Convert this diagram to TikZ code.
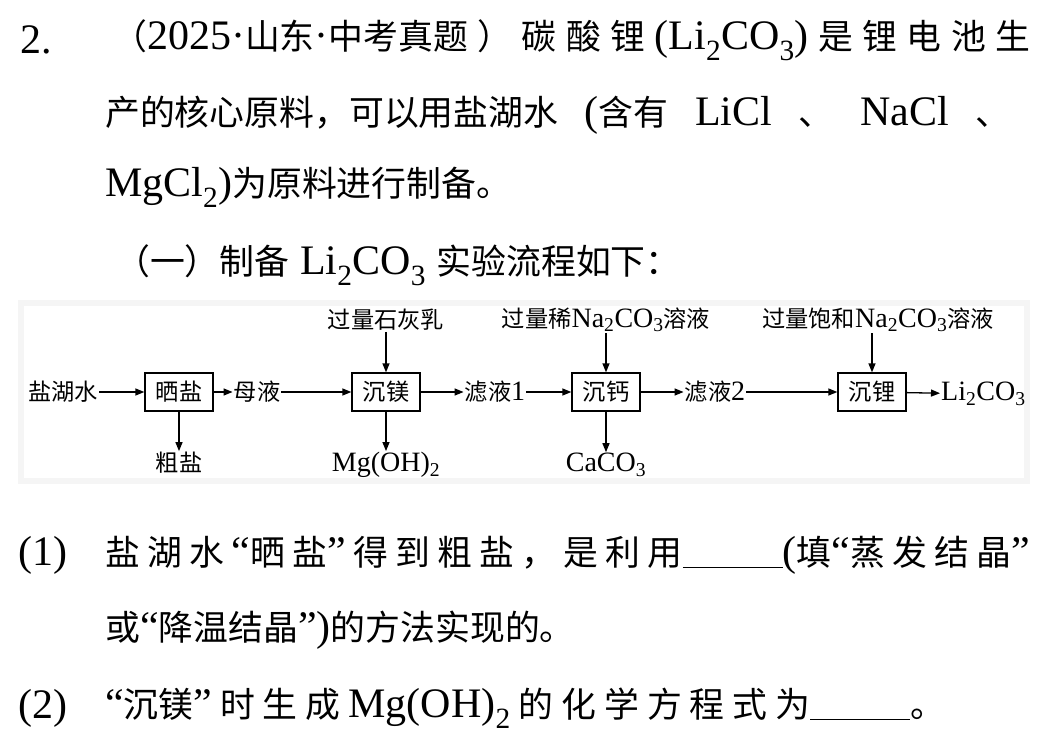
\documentclass[tikz,border=0pt]{standalone}
\usepackage{fontspec}
\setmainfont{Liberation Serif}
\newfontfamily\cjk[Scale=0.83]{Noto Sans CJK SC}
\newcommand{\C}[1]{{\cjk #1}}
\newcommand{\blank}{\rule[-3pt]{100pt}{1.2pt}}
\newcommand{\g}{\hspace{0pt plus 1fil}}
\usetikzlibrary{arrows.meta}
\begin{document}
\begin{tikzpicture}[x=1pt,y=-1pt,
  big/.style={anchor=west,inner sep=0pt,font=\fontsize{42}{48}\selectfont},
  sm/.style={inner sep=1pt,font=\fontsize{28}{32}\selectfont},
  pbox/.style={draw,line width=1.3pt,minimum width=68pt,minimum height=38pt,inner sep=0pt,font=\fontsize{28}{32}\selectfont},
  ar/.style={-{Triangle[length=9pt,width=7pt]},line width=1.3pt}]
\useasboundingbox (0,0) rectangle (1060,738);
\fill[white] (0,0) rectangle (1060,738);
\fill[gray!8] (18,300) rectangle (1030,484);
\fill[white] (24,306) rectangle (1024,478);
% text
\node[big] (l0) at (20,40) {2.};
\node[big] (l1) at (112,40) {\makebox[918pt][s]{\C{（}2025·\C{山东}·\C{中考真题}\g\C{）}\g\C{碳}\g\C{酸}\g\C{锂}\g(Li\textsubscript{2}CO\textsubscript{3})\g\C{是}\g\C{锂}\g\C{电}\g\C{池}\g\C{生}}};
\node[big] (l2) at (105,115) {\makebox[905pt][s]{\C{产的核心原料，可以用盐湖水}\g(\C{含有}\g LiCl\g\C{、}\g NaCl\g\C{、}}};
\node[big] (l3) at (105,187) {MgCl\textsubscript{2})\C{为原料进行制备。}};
\node[big] (l4) at (115,265) {\C{（一）制备} Li\textsubscript{2}CO\textsubscript{3} \C{实验流程如下：}};
\node[big] (q1) at (18,555) {(1)};
\node[big] (q1a) at (105,555) {\makebox[925pt][s]{\C{盐}\g\C{湖}\g\C{水}\g“\C{晒}\g\C{盐}”\g\C{得}\g\C{到}\g\C{粗}\g\C{盐}\g\C{，}\g\C{是}\g\C{利}\g\C{用}\blank(\C{填}“\C{蒸}\g\C{发}\g\C{结}\g\C{晶}”}};
\node[big] (q1b) at (105,630) {\C{或}“\C{降温结晶}”)\C{的方法实现的。}};
\node[big] (q2) at (18,708) {(2)};
\node[big] (q2a) at (105,708) {\makebox[840pt][s]{“\C{沉镁}”\g\C{时}\g\C{生}\g\C{成}\g Mg(OH)\textsubscript{2}\g\C{的}\g\C{化}\g\C{学}\g\C{方}\g\C{程}\g\C{式}\g\C{为}\blank\C{。}}};
% diagram
\node[sm] (src) at (63,392) {\C{盐湖水}};
\node[pbox] (b1) at (179,392) {\C{晒盐}};
\node[sm] (m1) at (257,392) {\C{母液}};
\node[pbox] (b2) at (386,392) {\C{沉镁}};
\node[sm] (f1) at (495,392) {\C{滤液}1};
\node[pbox] (b3) at (606,392) {\C{沉钙}};
\node[sm] (f2) at (715,392) {\C{滤液}2};
\node[pbox] (b4) at (872,392) {\C{沉锂}};
\node[sm,anchor=west] (out) at (940,394) {Li\textsubscript{2}CO\textsubscript{3}};
\node[sm] (t2) at (386,320) {\C{过量石灰乳}};
\node[sm] (t3) at (606,320) {\C{过量稀}Na\textsubscript{2}CO\textsubscript{3}\C{溶液}};
\node[sm] (t4) at (878,320) {\C{过量饱和}Na\textsubscript{2}CO\textsubscript{3}\C{溶液}};
\node[sm] (d1) at (179,463) {\C{粗盐}};
\node[sm] (d2) at (386,465) {Mg(OH)\textsubscript{2}};
\node[sm] (d3) at (606,465) {CaCO\textsubscript{3}};
\draw[ar] (src) -- (b1);
\draw[ar] (b1) -- (m1);
\draw[ar] (m1) -- (b2);
\draw[ar] (b2) -- (f1);
\draw[ar] (f1) -- (b3);
\draw[ar] (b3) -- (f2);
\draw[ar] (f2) -- (b4);
\draw[ar] (b4) -- (out);
\draw[ar] (t2) -- (b2);
\draw[ar] (t3.south -| b3) -- (b3);
\draw[ar] (t4.south -| b4) -- (b4);
\draw[ar] (b1) -- (d1);
\draw[ar] (b2) -- (d2);
\draw[ar] (b3) -- (d3);
\end{tikzpicture}
\end{document}
